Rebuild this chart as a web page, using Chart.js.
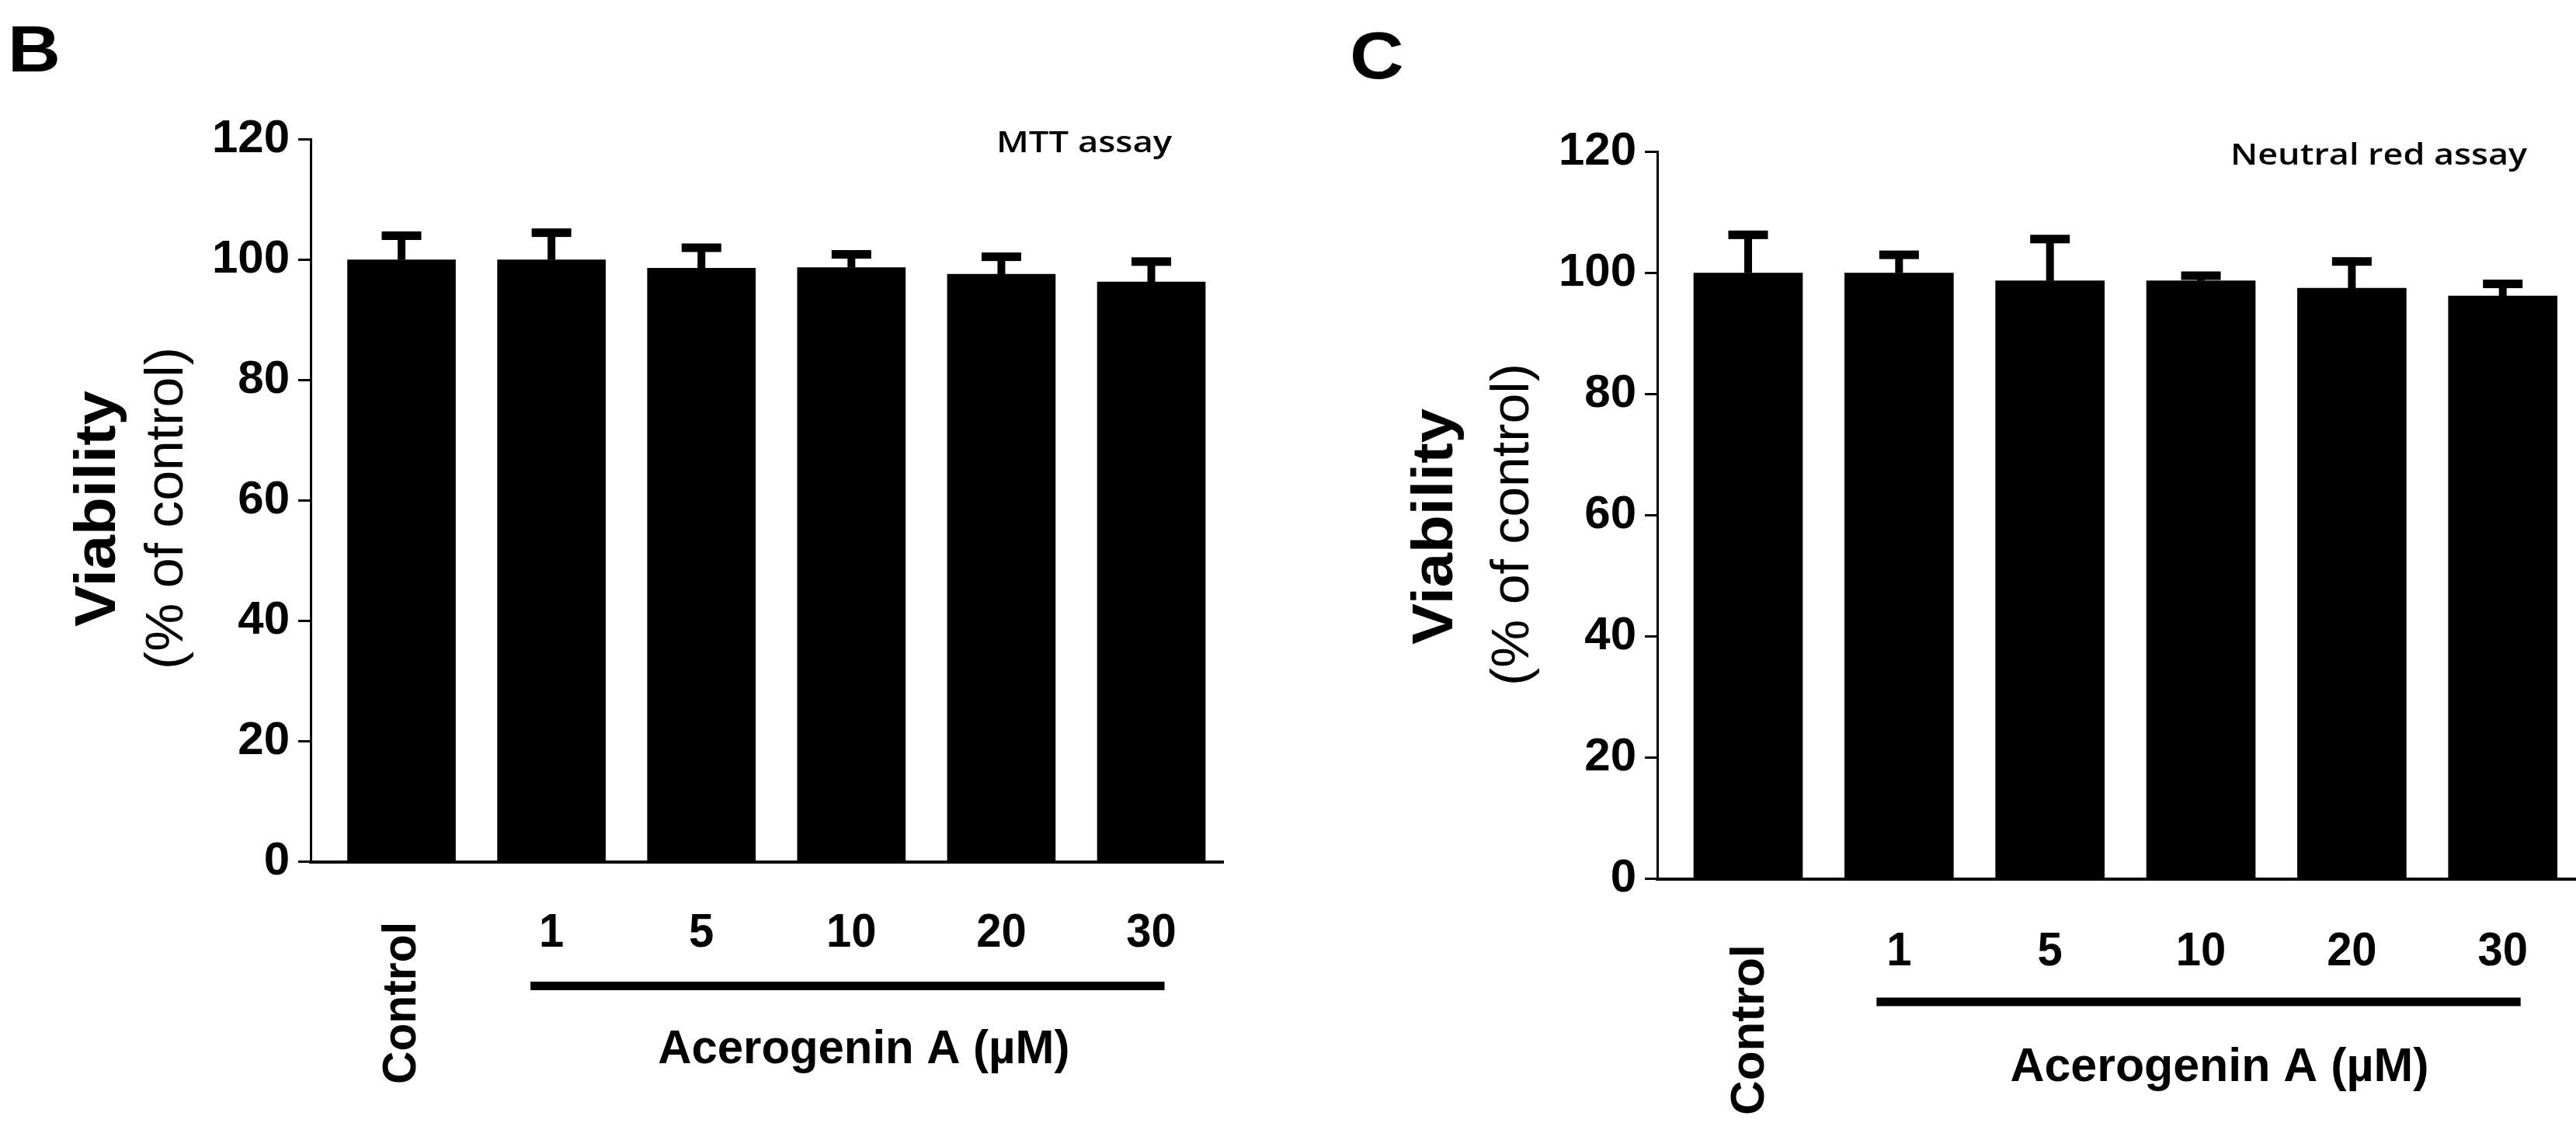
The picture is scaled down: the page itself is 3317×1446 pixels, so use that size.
<!DOCTYPE html>
<html>
<head>
<meta charset="utf-8">
<script src="https://cdn.jsdelivr.net/npm/chart.js@4.4.1/dist/chart.umd.min.js"></script>
<style>
  html, body { margin: 0; padding: 0; background: #fff; overflow: hidden; }
  body { width: 3317px; height: 1446px; position: relative; }
  canvas { position: absolute; top: 0; }
  #panel-b { left: 0; }
  #panel-c { left: 1660px; }
</style>
</head>
<body>
<canvas id="panel-b" width="1660" height="1446"></canvas>
<canvas id="panel-c" width="1657" height="1446"></canvas>
<script>
// groups on the x axis (Control, then Acerogenin A doses in µM)
const groups = ['Control', '1', '5', '10', '20', '30'];
const doseTitle = 'Acerogenin A (µM)';
const yTitle = 'Viability';
const ySubTitle = '(% of control)';
const yMin = 0;
const yMax = 120;
const yStep = 20;

// B: MTT assay, mean and SD (% of control)
const mttMean = [100, 100, 98.6, 98.7, 97.6, 96.3];
const mttSD = [4.0, 4.5, 3.4, 2.2, 2.9, 3.4];

// C: Neutral red assay, mean and SD (% of control)
const nrMean = [100, 100, 98.7, 98.7, 97.5, 96.2];
const nrSD = [6.3, 3.0, 6.9, 0.85, 4.4, 2.0];

const BOLD = 'bold %spx "Liberation Sans", Arial, sans-serif';
const REG = '%spx "Liberation Sans", Arial, sans-serif';
const font = (tpl, size) => tpl.replace('%s', size);

function txt(ctx, s, x, y, f, o = {}) {
  ctx.save();
  ctx.translate(x, y);
  if (o.rot) ctx.rotate(o.rot);
  ctx.font = f;
  const sx = o.w ? o.w / ctx.measureText(s).width : (o.sx || 1);
  ctx.scale(sx, 1);
  ctx.textAlign = o.align || 'center';
  ctx.textBaseline = 'alphabetic';
  ctx.fillStyle = '#000';
  ctx.fillText(s, 0, 0);
  ctx.restore();
}

const errorBars = {
  id: 'errorBars',
  afterDatasetsDraw(chart) {
    const { ctx, scales: { x, y } } = chart;
    const ds = chart.data.datasets[0];
    ctx.save();
    ctx.fillStyle = '#000';
    ds.data.forEach((p, i) => {
      const cx = x.getPixelForValue(p.x);
      const base = y.getPixelForValue(p.y);
      const top = y.getPixelForValue(p.y + ds.sd[i]);
      ctx.fillRect(cx - 5, top, 10, base - top);
      ctx.fillRect(cx - 25.5, top - 5.5, 51, 11);
    });
    ctx.restore();
  }
};

function panelText(p) {
  return {
    id: 'panelText',
    afterDraw(chart) {
      const { ctx, scales: { x } } = chart;
      const up = -Math.PI / 2;
      txt(ctx, p.letter, p.letterX, p.letterY, font(BOLD, p.letterSize), { align: 'left', sx: 1.12 });
      txt(ctx, p.assay, p.assayX, p.assayY, '600 38px "Open Sans", "Noto Sans", sans-serif', { align: 'left', w: p.assayW });
      txt(ctx, yTitle, p.yTitleX, p.yTitleY, font(BOLD, 74), { rot: up, w: 304 });
      txt(ctx, ySubTitle, p.ySubX, p.ySubY, font(REG, 68), { rot: up, w: 415 });
      // x labels: Control rotated, doses horizontal
      txt(ctx, groups[0], p.ctrlX, p.ctrlY, font(BOLD, 62), { rot: up, w: p.ctrlW });
      groups.slice(1).forEach((g, k) => {
        txt(ctx, g, x.getPixelForValue(k + 1), p.numY, font(BOLD, 61), { sx: 0.95 });
      });
      const x1 = x.getPixelForValue(1) - p.lineL;
      const x2 = x.getPixelForValue(groups.length - 1) + p.lineR;
      ctx.fillStyle = '#000';
      ctx.fillRect(x1, p.lineY - 5.5, x2 - x1, 11);
      txt(ctx, doseTitle, x.getPixelForValue(3) + p.xTitleDx, p.xTitleY, font(BOLD, 61), { w: p.xTitleW });
    }
  };
}

function makeChart(id, means, sds, p) {
  const ctx = document.getElementById(id).getContext('2d');
  return new Chart(ctx, {
    type: 'bar',
    data: {
      datasets: [{
        data: means.map((m, i) => ({ x: i, y: m })),
        sd: sds,
        backgroundColor: '#000',
        borderWidth: 0,
        barThickness: p.barW,
      }],
    },
    options: {
      responsive: false,
      animation: false,
      devicePixelRatio: 1,
      layout: { padding: p.pad },
      scales: {
        x: {
          type: 'linear',
          min: p.xMin,
          max: p.xMax,
          offset: false,
          ticks: { display: false },
          grid: { display: false },
          border: { display: true, color: '#000', width: 4 },
          afterFit: s => { s.height = 0; },
        },
        y: {
          min: yMin,
          max: yMax,
          ticks: {
            stepSize: yStep,
            color: '#000',
            padding: 11,
            font: { family: '"Liberation Sans", Arial, sans-serif', weight: 'bold', size: 60 },
          },
          grid: {
            drawOnChartArea: false,
            drawTicks: true,
            tickLength: 16,
            tickWidth: 3,
            tickColor: '#000',
            color: '#000',
          },
          border: { display: true, color: '#000', width: 3 },
          afterFit: s => { s.width = p.yAxisW; },
        },
      },
      plugins: { legend: { display: false }, tooltip: { enabled: false } },
    },
    plugins: [errorBars, panelText(p)],
  });
}

makeChart('panel-b', mttMean, mttSD, {
  letter: 'B', letterX: 10, letterY: 92, letterSize: 84,
  assay: 'MTT assay', assayX: 1283, assayY: 196, assayW: 226,
  yTitleX: 148, yTitleY: 655, ySubX: 235, ySubY: 654.5,
  ctrlX: 535, ctrlY: 1291.5, ctrlW: 209,
  numY: 1219, lineY: 1269.5, lineL: 27, lineR: 17,
  xTitleDx: 16, xTitleY: 1369, xTitleW: 530,
  pad: { left: 0, top: 179.5, right: 85, bottom: 336.5 },
  yAxisW: 400, xMin: -0.606, xMax: 5.479, barW: 139,
});

makeChart('panel-c', nrMean, nrSD, {
  letter: 'C', letterX: 78, letterY: 101, letterSize: 86,
  assay: 'Neutral red assay', assayX: 1212, assayY: 212, assayW: 382,
  yTitleX: 210, yTitleY: 678, ySubX: 308, ySubY: 675.5,
  ctrlX: 611, ctrlY: 1326, ctrlW: 220,
  numY: 1243, lineY: 1290, lineL: 29, lineR: 23,
  xTitleDx: 24, xTitleY: 1392, xTitleW: 539,
  pad: { left: 0, top: 195.5, right: 1, bottom: 314.5 },
  yAxisW: 474, xMin: -0.602, xMax: 5.48, barW: 140,
});
</script>
</body>
</html>
